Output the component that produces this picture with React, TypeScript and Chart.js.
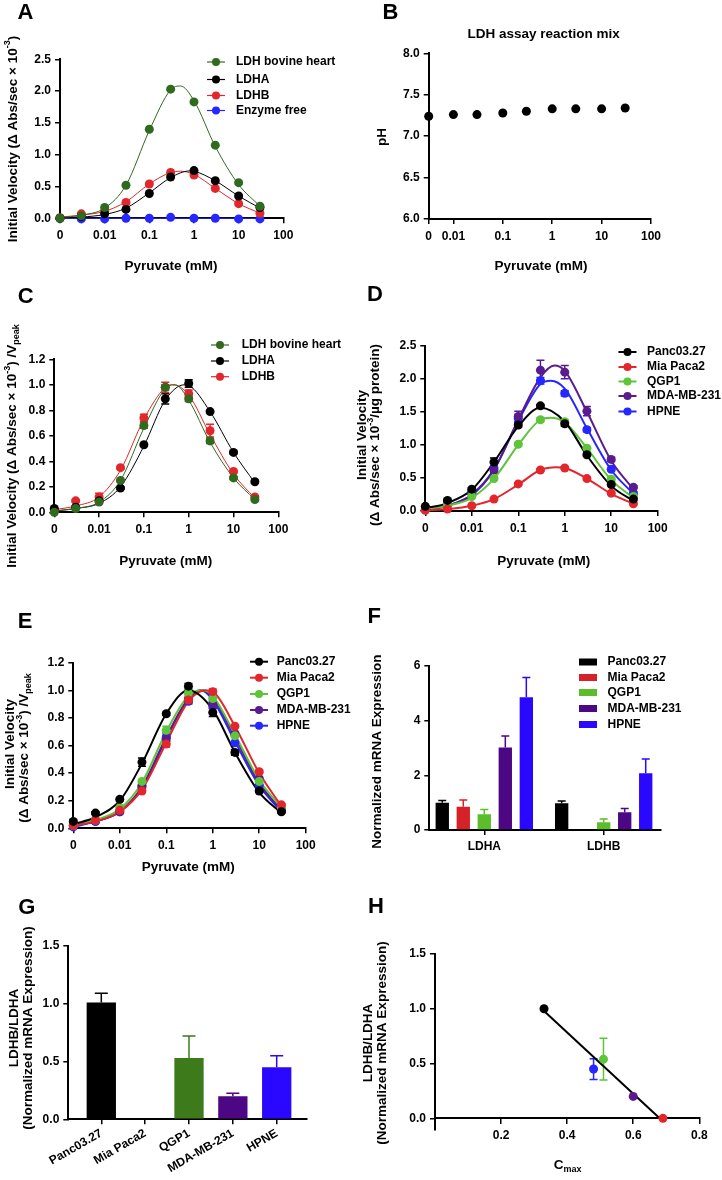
import React, { useEffect, useRef } from 'react';
import { Chart, registerables } from 'chart.js';

Chart.register(...registerables);

const FONT = '"Liberation Sans", Arial, Helvetica, sans-serif';
const TICK_FONT = { family: FONT, size: 12, weight: 'bold' as const };
const TITLE_SIZE = 13.5;

// ===== Shared pyruvate axis =====
const pyruvateConc = [0, 0.003, 0.01, 0.03, 0.1, 0.3, 1, 3, 10, 30];
const pyruvateTickLabels = ['0', '0.01', '0.1', '1', '10', '100'];
const pyruvateTickValues = [0.001, 0.01, 0.1, 1, 10, 100];

// ===== Panel A: initial velocity, purified enzymes =====
const aBovineHeart = [0.0, 0.04, 0.17, 0.52, 1.40, 2.03, 1.83, 1.15, 0.56, 0.19];
const aLDHA = [0.0, 0.03, 0.07, 0.14, 0.39, 0.65, 0.75, 0.59, 0.35, 0.17];
const aLDHB = [0.01, 0.07, 0.11, 0.25, 0.54, 0.72, 0.68, 0.47, 0.23, 0.08];
const aEnzymeFree = [0.0, -0.01, -0.01, 0.0, 0.0, 0.015, 0.0, 0.0, -0.01, -0.01];
const aBovineHeartFit: [number, number][] = [[0, 0.01], [0.003, 0.05], [0.01, 0.16], [0.03, 0.52], [0.1, 1.38], [0.3, 2.02], [0.5, 2.08], [1, 1.85], [3, 1.13], [10, 0.53], [30, 0.19]];
const aLDHAFit: [number, number][] = [[0, 0.01], [0.003, 0.02], [0.01, 0.06], [0.03, 0.16], [0.1, 0.40], [0.3, 0.64], [0.8, 0.745], [1, 0.74], [3, 0.59], [10, 0.35], [30, 0.16]];
const aLDHBFit: [number, number][] = [[0, 0.02], [0.003, 0.05], [0.01, 0.11], [0.03, 0.26], [0.1, 0.54], [0.3, 0.72], [0.5, 0.74], [1, 0.69], [3, 0.47], [10, 0.23], [30, 0.08]];
const aEnzymeFreeFit: [number, number][] = [[0, 0.0], [30, 0.0]];

// ===== Panel B: pH =====
const bConc = [0, 0.01, 0.03, 0.1, 0.3, 1, 3, 10, 30];
const bPH = [7.24, 7.26, 7.26, 7.28, 7.30, 7.33, 7.33, 7.33, 7.34];
const bTickValues = [0.0031623, 0.01, 0.1, 1, 10, 100];

// ===== Panel C: normalized, purified enzymes =====
const cBovineHeart = [0.0, 0.03, 0.08, 0.25, 0.68, 0.98, 0.89, 0.56, 0.27, 0.10];
const cBovineHeartErr = [0, 0, 0.01, 0.01, 0.02, 0.02, 0.02, 0.02, 0.01, 0.01];
const cLDHA = [0.03, 0.04, 0.09, 0.19, 0.53, 0.89, 1.01, 0.79, 0.47, 0.24];
const cLDHAErr = [0, 0.01, 0.01, 0.01, 0.01, 0.04, 0.03, 0.01, 0.01, 0.01];
const cLDHB = [0.02, 0.09, 0.12, 0.35, 0.74, 0.98, 0.93, 0.64, 0.32, 0.12];
const cLDHBErr = [0, 0.01, 0.03, 0.01, 0.03, 0.04, 0.03, 0.05, 0.01, 0.01];
const cBovineHeartFit: [number, number][] = [[0, 0.01], [0.003, 0.03], [0.01, 0.08], [0.03, 0.25], [0.1, 0.66], [0.3, 0.97], [0.5, 1.0], [1, 0.88], [3, 0.55], [10, 0.27], [30, 0.10]];
const cLDHAFit: [number, number][] = [[0, 0.01], [0.003, 0.03], [0.01, 0.07], [0.03, 0.20], [0.1, 0.52], [0.3, 0.88], [0.8, 1.0], [1, 0.995], [3, 0.79], [10, 0.47], [30, 0.23]];
const cLDHBFit: [number, number][] = [[0, 0.02], [0.003, 0.05], [0.01, 0.12], [0.03, 0.33], [0.1, 0.73], [0.3, 0.98], [0.45, 1.0], [1, 0.92], [3, 0.61], [10, 0.30], [30, 0.11]];

// ===== Panel D: cell lysates =====
const dPanc = [0.07, 0.16, 0.33, 0.74, 1.30, 1.59, 1.32, 0.85, 0.40, 0.18];
const dPancErr = [0.01, 0.02, 0.02, 0.06, 0.03, 0.02, 0.04, 0.02, 0.02, 0.02];
const dMia = [0.01, 0.03, 0.08, 0.18, 0.41, 0.62, 0.65, 0.49, 0.27, 0.11];
const dMiaErr = [0, 0, 0.01, 0.01, 0.01, 0.02, 0.02, 0.02, 0.01, 0.01];
const dQGP1 = [0.03, 0.09, 0.22, 0.49, 1.01, 1.38, 1.35, 0.95, 0.48, 0.22];
const dQGP1Err = [0, 0.01, 0.01, 0.02, 0.02, 0.03, 0.03, 0.02, 0.02, 0.01];
const dMDA = [0.02, 0.10, 0.28, 0.62, 1.43, 2.13, 2.10, 1.51, 0.78, 0.36];
const dMDAErr = [0, 0.01, 0.02, 0.04, 0.08, 0.15, 0.10, 0.07, 0.03, 0.02];
const dHPNE = [0.02, 0.10, 0.27, 0.65, 1.40, 1.97, 1.78, 1.23, 0.63, 0.27];
const dHPNEErr = [0, 0.01, 0.02, 0.03, 0.05, 0.05, 0.04, 0.03, 0.02, 0.02];
const dPancFit: [number, number][] = [[0, 0.04], [0.003, 0.12], [0.01, 0.32], [0.03, 0.74], [0.1, 1.28], [0.3, 1.56], [1, 1.35], [3, 0.84], [10, 0.38], [30, 0.15]];
const dMiaFit: [number, number][] = [[0, 0.01], [0.003, 0.03], [0.01, 0.08], [0.03, 0.18], [0.1, 0.40], [0.3, 0.62], [0.65, 0.66], [1, 0.65], [3, 0.49], [10, 0.26], [30, 0.11]];
const dQGP1Fit: [number, number][] = [[0, 0.03], [0.003, 0.08], [0.01, 0.20], [0.03, 0.49], [0.1, 1.0], [0.3, 1.38], [0.5, 1.41], [1, 1.34], [3, 0.95], [10, 0.47], [30, 0.20]];
const dMDAFit: [number, number][] = [[0, 0.02], [0.003, 0.08], [0.01, 0.24], [0.03, 0.62], [0.1, 1.38], [0.3, 2.02], [0.6, 2.2], [1, 2.12], [3, 1.50], [10, 0.76], [30, 0.33]];
const dHPNEFit: [number, number][] = [[0, 0.02], [0.003, 0.08], [0.01, 0.25], [0.03, 0.63], [0.1, 1.36], [0.3, 1.92], [0.5, 1.97], [1, 1.85], [3, 1.25], [10, 0.62], [30, 0.26]];

// ===== Panel E: normalized, cell lysates =====
const ePanc = [0.05, 0.11, 0.21, 0.48, 0.83, 1.03, 0.84, 0.55, 0.27, 0.12];
const ePancErr = [0.01, 0.01, 0.01, 0.03, 0.01, 0.02, 0.03, 0.02, 0.01, 0.01];
const eMia = [0.02, 0.06, 0.13, 0.27, 0.61, 0.93, 0.99, 0.74, 0.41, 0.17];
const eMiaErr = [0, 0, 0.01, 0.01, 0.02, 0.02, 0.02, 0.01, 0.01, 0.01];
const eQGP1 = [0.02, 0.06, 0.15, 0.34, 0.71, 0.98, 0.94, 0.67, 0.34, 0.15];
const eQGP1Err = [0, 0, 0.01, 0.01, 0.03, 0.02, 0.02, 0.01, 0.01, 0.01];
const eMDA = [0.02, 0.05, 0.12, 0.31, 0.65, 0.93, 0.90, 0.68, 0.36, 0.14];
const eMDAErr = [0, 0, 0.01, 0.01, 0.02, 0.02, 0.02, 0.01, 0.01, 0.01];
const eHPNE = [0.01, 0.05, 0.12, 0.30, 0.66, 0.92, 0.89, 0.62, 0.31, 0.13];
const eHPNEErr = [0, 0, 0.01, 0.01, 0.03, 0.02, 0.02, 0.01, 0.01, 0.01];
const ePancFit: [number, number][] = [[0, 0.03], [0.003, 0.08], [0.01, 0.20], [0.03, 0.47], [0.1, 0.83], [0.3, 1.0], [1, 0.86], [3, 0.55], [10, 0.26], [30, 0.11]];
const eMiaFit: [number, number][] = [[0, 0.02], [0.003, 0.05], [0.01, 0.12], [0.03, 0.28], [0.1, 0.62], [0.3, 0.92], [0.7, 1.0], [1, 0.99], [3, 0.74], [10, 0.40], [30, 0.16]];
const eQGP1Fit: [number, number][] = [[0, 0.02], [0.003, 0.06], [0.01, 0.14], [0.03, 0.33], [0.1, 0.70], [0.3, 0.96], [0.6, 1.0], [1, 0.96], [3, 0.68], [10, 0.35], [30, 0.15]];
const eMDAFit: [number, number][] = [[0, 0.02], [0.003, 0.05], [0.01, 0.12], [0.03, 0.30], [0.1, 0.66], [0.3, 0.94], [0.6, 1.0], [1, 0.95], [3, 0.66], [10, 0.33], [30, 0.13]];
const eHPNEFit: [number, number][] = [[0, 0.01], [0.003, 0.05], [0.01, 0.12], [0.03, 0.29], [0.1, 0.65], [0.3, 0.94], [0.55, 1.0], [1, 0.93], [3, 0.63], [10, 0.31], [30, 0.12]];

// ===== Panel F: mRNA expression =====
const fGenes = ['LDHA', 'LDHB'];
const fPanc = [1.0, 0.98];
const fPancErr = [0.08, 0.08];
const fMia = [0.85, 0.0];
const fMiaErr = [0.25, 0];
const fQGP1 = [0.58, 0.28];
const fQGP1Err = [0.17, 0.12];
const fMDA = [3.02, 0.65];
const fMDAErr = [0.42, 0.14];
const fHPNE = [4.86, 2.08];
const fHPNEErr = [0.72, 0.52];

// ===== Panel G: LDHB/LDHA ratio =====
const gCells = ['Panc03.27', 'Mia Paca2', 'QGP1', 'MDA-MB-231', 'HPNE'];
const gRatio = [1.01, 0.0, 0.53, 0.20, 0.45];
const gRatioErr = [0.08, 0, 0.19, 0.025, 0.10];

// ===== Panel H: ratio vs Cmax =====
const hCells = ['Panc03.27', 'Mia Paca2', 'QGP1', 'MDA-MB-231', 'HPNE'];
const hCmax = [0.33, 0.69, 0.51, 0.60, 0.48];
const hRatio = [1.0, 0.0, 0.54, 0.20, 0.45];
const hRatioErr = [0, 0, 0.19, 0, 0.095];
const hRegressionX = [0.33, 0.68];
const hRegressionY = [0.98, 0.0];

// ===== colours =====
const BLACK = '#000000';
const GREEN_DARK = '#2f6a1f';
const RED = '#e3262b';
const BLUE = '#2626ff';
const GREEN = '#5ec43a';
const PURPLE = '#5a1b8e';
const F_RED = '#d52128';
const F_GREEN = '#5bbd2b';
const F_PURPLE = '#4d0784';
const F_BLUE = '#2a08ff';
const G_GREEN = '#3c7a1c';

// ===== types =====
type Box = { x: number; y: number; w: number; h: number };
type Area = { l: number; t: number; r: number; b: number };
type Seg = { t: string; sup?: boolean; sub?: boolean };
type TextItem = { x: number; y: number; segs: Seg[] | string; size?: number; rot?: boolean };
type LegendCfg = {
  kind: 'line' | 'box';
  items: { label: string; color: string }[];
  mx: number; tx: number; ys: number[]; half: number; r?: number; lw?: number; boxH?: number;
};
type ErrCfg = { ds: number; errs: number[]; color: string | string[]; cap: number; up?: boolean; lw?: number };

function drawText(ctx: CanvasRenderingContext2D, item: TextItem, ox: number, oy: number) {
  const size = item.size ?? TITLE_SIZE;
  const segs: Seg[] = typeof item.segs === 'string' ? [{ t: item.segs }] : item.segs;
  ctx.save();
  ctx.translate(item.x - ox, item.y - oy);
  if (item.rot) ctx.rotate(-Math.PI / 2);
  const fonts = segs.map((s) => `bold ${s.sup || s.sub ? Math.round(size * 0.68) : size}px ${FONT}`);
  const widths = segs.map((s, i) => {
    ctx.font = fonts[i];
    return ctx.measureText(s.t).width;
  });
  const total = widths.reduce((a, b) => a + b, 0);
  let x = -total / 2;
  ctx.fillStyle = '#000';
  ctx.textBaseline = 'middle';
  ctx.textAlign = 'left';
  segs.forEach((s, i) => {
    ctx.font = fonts[i];
    const dy = s.sup ? -size * 0.38 : s.sub ? size * 0.32 : 0;
    ctx.fillText(s.t, x, dy);
    x += widths[i];
  });
  ctx.restore();
}

function drawLegend(ctx: CanvasRenderingContext2D, L: LegendCfg, ox: number, oy: number) {
  ctx.save();
  L.items.forEach((it, i) => {
    const y = L.ys[i] - oy;
    const mx = L.mx - ox;
    ctx.fillStyle = it.color;
    ctx.strokeStyle = it.color;
    if (L.kind === 'line') {
      ctx.lineWidth = L.lw ?? 1.2;
      ctx.beginPath();
      ctx.moveTo(mx - L.half, y);
      ctx.lineTo(mx + L.half, y);
      ctx.stroke();
      ctx.beginPath();
      ctx.arc(mx, y, L.r ?? 4, 0, Math.PI * 2);
      ctx.fill();
    } else {
      const bh = L.boxH ?? 7;
      ctx.fillRect(mx - L.half, y - bh / 2, L.half * 2, bh);
    }
    ctx.fillStyle = '#000';
    ctx.font = `bold 12px ${FONT}`;
    ctx.textAlign = 'left';
    ctx.textBaseline = 'middle';
    ctx.fillText(it.label, L.tx - ox, y);
  });
  ctx.restore();
}

function drawErrors(chart: any, errs: ErrCfg[], wantUp: boolean) {
  const ctx: CanvasRenderingContext2D = chart.ctx;
  const yScale = chart.scales.y;
  errs.forEach((e) => {
    if (!!e.up !== wantUp) return;
    const meta = chart.getDatasetMeta(e.ds);
    const ds = chart.data.datasets[e.ds];
    meta.data.forEach((el: any, j: number) => {
      const err = e.errs[j];
      if (!err) return;
      const v = (ds.data[j] as any).y;
      const col = Array.isArray(e.color) ? e.color[j] : e.color;
      const x = el.x;
      const yTop = yScale.getPixelForValue(v + err);
      const yBot = e.up ? yScale.getPixelForValue(v) : yScale.getPixelForValue(v - err);
      ctx.save();
      ctx.strokeStyle = col;
      ctx.lineWidth = e.lw ?? 1.5;
      ctx.beginPath();
      ctx.moveTo(x, yTop);
      ctx.lineTo(x, yBot);
      ctx.moveTo(x - e.cap / 2, yTop);
      ctx.lineTo(x + e.cap / 2, yTop);
      if (!e.up) {
        ctx.moveTo(x - e.cap / 2, yBot);
        ctx.lineTo(x + e.cap / 2, yBot);
      }
      ctx.stroke();
      ctx.restore();
    });
  });
}

function makeDeco(id: string, box: Box, texts: TextItem[], legend?: LegendCfg, errors: ErrCfg[] = []) {
  return {
    id,
    beforeDatasetsDraw(chart: any) {
      drawErrors(chart, errors, false);
    },
    afterDatasetsDraw(chart: any) {
      drawErrors(chart, errors, true);
    },
    afterDraw(chart: any) {
      const ctx = chart.ctx as CanvasRenderingContext2D;
      texts.forEach((t) => drawText(ctx, t, box.x, box.y));
      if (legend) drawLegend(ctx, legend, box.x, box.y);
    },
  };
}

// The y scale fills the space left of the plot, the x scale the space below it,
// so the layout puts the plot area exactly where the reference has it.
function baseOptions(box: Box, area: Area, xInLayout = true) {
  return {
    animation: false as const,
    responsive: false,
    maintainAspectRatio: false,
    events: [] as any[],
    layout: {
      padding: { left: 0, top: area.t - box.y, right: box.x + box.w - area.r, bottom: xInLayout ? 0 : box.y + box.h - area.b },
    },
    plugins: { legend: { display: false }, tooltip: { enabled: false }, title: { display: false } },
  };
}

const axisLine = {
  border: { display: true, color: '#000', width: 2 },
  grid: { display: true, drawOnChartArea: false, drawTicks: true, tickLength: 5, tickWidth: 1.5, color: '#000', lineWidth: 1.5, offset: false },
};

function valueAxis(box: Box, area: Area, min: number, max: number, ticks: number[], digits: number) {
  return {
    type: 'linear',
    min,
    max,
    ...axisLine,
    afterBuildTicks: (ax: any) => {
      ax.ticks = ticks.map((v) => ({ value: v }));
    },
    afterFit: (ax: any) => {
      ax.width = area.l - box.x;
    },
    ticks: { color: '#000', font: TICK_FONT, padding: 4, autoSkip: false, callback: (v: any) => Number(v).toFixed(digits) },
  };
}

function xFit(box: Box, area: Area) {
  return (ax: any) => {
    ax.height = box.y + box.h - area.b;
  };
}

function pyruvateAxis(box: Box, area: Area, min: number, tickValues: number[]) {
  return {
    type: 'logarithmic',
    min,
    max: 100,
    ...axisLine,
    afterBuildTicks: (ax: any) => {
      ax.ticks = tickValues.map((v) => ({ value: v }));
    },
    afterFit: xFit(box, area),
    ticks: {
      color: '#000', font: TICK_FONT, padding: 5, autoSkip: false, maxRotation: 0, minRotation: 0,
      callback: (_v: any, i: number) => pyruvateTickLabels[i],
    },
  };
}

type Series = { label: string; color: string; pts: number[]; fit: [number, number][]; errs?: number[] };

function curveConfig(p: {
  id: string; box: Box; area: Area; yMin: number; yMax: number; yTicks: number[]; series: Series[];
  fitWidth: number; texts: TextItem[]; legend: LegendCfg;
}) {
  const xMin = pyruvateTickValues[0];
  const zero = (c: number) => (c === 0 ? xMin : c);
  const pointSets = p.series.map((s) => ({
    type: 'scatter',
    label: s.label,
    data: s.pts.map((v, i) => ({ x: zero(pyruvateConc[i]), y: v })),
    backgroundColor: s.color,
    borderColor: s.color,
    pointBackgroundColor: s.color,
    pointBorderWidth: 0,
    pointRadius: 4.5,
    pointHoverRadius: 4.5,
    showLine: false,
    order: 0,
    clip: false,
  }));
  const fitSets = p.series.map((s) => ({
    type: 'scatter',
    label: s.label + ' fit',
    data: s.fit.map(([c, v]) => ({ x: zero(c), y: v })),
    borderColor: s.color,
    backgroundColor: s.color,
    borderWidth: p.fitWidth,
    pointRadius: 0,
    pointHoverRadius: 0,
    showLine: true,
    cubicInterpolationMode: 'monotone',
    order: 1,
    clip: false,
  }));
  const errors: ErrCfg[] = [];
  p.series.forEach((s, i) => {
    if (s.errs) errors.push({ ds: i, errs: s.errs, color: s.color, cap: 8, lw: 1.5 });
  });
  return {
    type: 'scatter',
    data: { datasets: [...pointSets, ...fitSets] },
    options: {
      ...baseOptions(p.box, p.area),
      scales: {
        x: pyruvateAxis(p.box, p.area, xMin, pyruvateTickValues),
        y: valueAxis(p.box, p.area, p.yMin, p.yMax, p.yTicks, 1),
      },
    },
    plugins: [makeDeco(p.id, p.box, p.texts, p.legend, errors)],
  };
}

const velocityTitle: Seg[] = [{ t: 'Initial Velocity (Δ Abs/sec × 10' }, { t: '-3', sup: true }, { t: ')' }];
const normTitle: Seg[] = [{ t: 'Initial Velocity (Δ Abs/sec × 10' }, { t: '-3', sup: true }, { t: ') /V' }, { t: 'peak', sub: true }];
const normTitle2: Seg[] = [{ t: '(Δ Abs/sec × 10' }, { t: '-3', sup: true }, { t: ') /V' }, { t: 'peak', sub: true }];
const proteinTitle: Seg[] = [{ t: '(Δ Abs/sec × 10' }, { t: '-3', sup: true }, { t: '/µg protein)' }];
const LETTER = 22;

// ===== panel boxes =====
const boxA: Box = { x: 0, y: 0, w: 361, h: 280 };
const boxB: Box = { x: 361, y: 0, w: 361, h: 280 };
const boxC: Box = { x: 0, y: 280, w: 361, h: 300 };
const boxD: Box = { x: 340, y: 280, w: 382, h: 300 };
const boxE: Box = { x: 0, y: 580, w: 361, h: 300 };
const boxF: Box = { x: 361, y: 580, w: 361, h: 300 };
const boxG: Box = { x: 0, y: 880, w: 361, h: 300 };
const boxH: Box = { x: 355, y: 880, w: 367, h: 300 };

function configA() {
  return curveConfig({
    id: 'decoA', box: boxA, area: { l: 60, t: 59.3, r: 283.3, b: 218.3 },
    yMin: 0, yMax: 2.5, yTicks: [0, 0.5, 1, 1.5, 2, 2.5], fitWidth: 1,
    series: [
      { label: 'LDH bovine heart', color: GREEN_DARK, pts: aBovineHeart, fit: aBovineHeartFit },
      { label: 'LDHA', color: BLACK, pts: aLDHA, fit: aLDHAFit },
      { label: 'LDHB', color: RED, pts: aLDHB, fit: aLDHBFit },
      { label: 'Enzyme free', color: BLUE, pts: aEnzymeFree, fit: aEnzymeFreeFit },
    ],
    texts: [
      { x: 25.5, y: 13, segs: 'A', size: LETTER },
      { x: 13, y: 139, segs: velocityTitle, rot: true },
      { x: 171, y: 266, segs: 'Pyruvate (mM)' },
    ],
    legend: {
      kind: 'line', mx: 216, tx: 236, half: 9, r: 4, lw: 1.2, ys: [62, 79.5, 95.5, 110.5],
      items: [
        { label: 'LDH bovine heart', color: GREEN_DARK },
        { label: 'LDHA', color: BLACK },
        { label: 'LDHB', color: RED },
        { label: 'Enzyme free', color: BLUE },
      ],
    },
  });
}

function configB() {
  const xMin = bTickValues[0];
  const area = { l: 428.7, t: 53.3, r: 651, b: 219 };
  return {
    type: 'scatter',
    data: {
      datasets: [{
        label: 'pH',
        data: bPH.map((v, i) => ({ x: bConc[i] === 0 ? xMin : bConc[i], y: v })),
        backgroundColor: BLACK, pointBackgroundColor: BLACK, pointBorderWidth: 0,
        pointRadius: 4.5, pointHoverRadius: 4.5, showLine: false, clip: false,
      }],
    },
    options: {
      ...baseOptions(boxB, area),
      scales: {
        x: pyruvateAxis(boxB, area, xMin, bTickValues),
        y: valueAxis(boxB, area, 6, 8, [6, 6.5, 7, 7.5, 8], 1),
      },
    },
    plugins: [makeDeco('decoB', boxB, [
      { x: 390.5, y: 12.5, segs: 'B', size: LETTER },
      { x: 543.7, y: 34, segs: 'LDH assay reaction mix' },
      { x: 382, y: 137, segs: 'pH', rot: true },
      { x: 541, y: 266, segs: 'Pyruvate (mM)' },
    ])],
  };
}

function configC() {
  return curveConfig({
    id: 'decoC', box: boxC, area: { l: 54.3, t: 359.3, r: 278.3, b: 512.3 },
    yMin: 0, yMax: 1.2, yTicks: [0, 0.2, 0.4, 0.6, 0.8, 1.0, 1.2], fitWidth: 1,
    series: [
      { label: 'LDH bovine heart', color: GREEN_DARK, pts: cBovineHeart, fit: cBovineHeartFit, errs: cBovineHeartErr },
      { label: 'LDHA', color: BLACK, pts: cLDHA, fit: cLDHAFit, errs: cLDHAErr },
      { label: 'LDHB', color: RED, pts: cLDHB, fit: cLDHBFit, errs: cLDHBErr },
    ],
    texts: [
      { x: 25.8, y: 296.7, segs: 'C', size: LETTER },
      { x: 12.5, y: 446, segs: normTitle, rot: true },
      { x: 165.7, y: 561.7, segs: 'Pyruvate (mM)' },
    ],
    legend: {
      kind: 'line', mx: 220, tx: 241.7, half: 9, r: 4, lw: 1.2, ys: [345, 361, 376.7],
      items: [
        { label: 'LDH bovine heart', color: GREEN_DARK },
        { label: 'LDHA', color: BLACK },
        { label: 'LDHB', color: RED },
      ],
    },
  });
}

const cellLegendItems = [
  { label: 'Panc03.27', color: BLACK },
  { label: 'Mia Paca2', color: RED },
  { label: 'QGP1', color: GREEN },
  { label: 'MDA-MB-231', color: PURPLE },
  { label: 'HPNE', color: BLUE },
];

function configD() {
  return curveConfig({
    id: 'decoD', box: boxD, area: { l: 425.3, t: 345.7, r: 657.7, b: 511 },
    yMin: 0, yMax: 2.5, yTicks: [0, 0.5, 1, 1.5, 2, 2.5], fitWidth: 2,
    series: [
      { label: 'Panc03.27', color: BLACK, pts: dPanc, fit: dPancFit, errs: dPancErr },
      { label: 'Mia Paca2', color: RED, pts: dMia, fit: dMiaFit, errs: dMiaErr },
      { label: 'QGP1', color: GREEN, pts: dQGP1, fit: dQGP1Fit, errs: dQGP1Err },
      { label: 'MDA-MB-231', color: PURPLE, pts: dMDA, fit: dMDAFit, errs: dMDAErr },
      { label: 'HPNE', color: BLUE, pts: dHPNE, fit: dHPNEFit, errs: dHPNEErr },
    ],
    texts: [
      { x: 375, y: 295, segs: 'D', size: LETTER },
      { x: 362, y: 435, segs: 'Initial Velocity', rot: true },
      { x: 375.5, y: 435, segs: proteinTitle, rot: true },
      { x: 543.7, y: 561.7, segs: 'Pyruvate (mM)' },
    ],
    legend: { kind: 'line', mx: 627.5, tx: 647, half: 9, r: 4, lw: 2, ys: [352, 367, 381.5, 396, 411.5], items: cellLegendItems },
  });
}

function configE() {
  return curveConfig({
    id: 'decoE', box: boxE, area: { l: 73.3, t: 662.7, r: 305.7, b: 828.3 },
    yMin: 0, yMax: 1.2, yTicks: [0, 0.2, 0.4, 0.6, 0.8, 1.0, 1.2], fitWidth: 2,
    series: [
      { label: 'Panc03.27', color: BLACK, pts: ePanc, fit: ePancFit, errs: ePancErr },
      { label: 'Mia Paca2', color: RED, pts: eMia, fit: eMiaFit, errs: eMiaErr },
      { label: 'QGP1', color: GREEN, pts: eQGP1, fit: eQGP1Fit, errs: eQGP1Err },
      { label: 'MDA-MB-231', color: PURPLE, pts: eMDA, fit: eMDAFit, errs: eMDAErr },
      { label: 'HPNE', color: BLUE, pts: eHPNE, fit: eHPNEFit, errs: eHPNEErr },
    ],
    texts: [
      { x: 25, y: 621.7, segs: 'E', size: LETTER },
      { x: 10, y: 744, segs: 'Initial Velocity', rot: true },
      { x: 24.5, y: 748, segs: normTitle2, rot: true },
      { x: 188.3, y: 867.3, segs: 'Pyruvate (mM)' },
    ],
    legend: { kind: 'line', mx: 259, tx: 276.7, half: 9, r: 4, lw: 2, ys: [661.7, 677.7, 694, 710, 725.7], items: cellLegendItems },
  });
}

function configF() {
  const area = { l: 429.3, t: 666, r: 661, b: 830 };
  const series = [
    { label: 'Panc03.27', color: BLACK, vals: fPanc, errs: fPancErr },
    { label: 'Mia Paca2', color: F_RED, vals: fMia, errs: fMiaErr },
    { label: 'QGP1', color: F_GREEN, vals: fQGP1, errs: fQGP1Err },
    { label: 'MDA-MB-231', color: F_PURPLE, vals: fMDA, errs: fMDAErr },
    { label: 'HPNE', color: F_BLUE, vals: fHPNE, errs: fHPNEErr },
  ];
  return {
    type: 'bar',
    data: {
      datasets: series.map((s) => ({
        label: s.label,
        data: s.vals.map((v, i) => ({ x: i, y: v })),
        backgroundColor: s.color,
        borderWidth: 0,
        barPercentage: 0.635,
        categoryPercentage: 0.88,
      })),
    },
    options: {
      ...baseOptions(boxF, area),
      scales: {
        x: {
          type: 'linear', min: -0.4606, max: 1.48, offset: false, ...axisLine,
          afterBuildTicks: (ax: any) => { ax.ticks = fGenes.map((_g, i) => ({ value: i })); },
          afterFit: xFit(boxF, area),
          ticks: { color: '#000', font: TICK_FONT, padding: 4, autoSkip: false, maxRotation: 0, minRotation: 0, callback: (v: any) => fGenes[Math.round(Number(v))] },
        },
        y: valueAxis(boxF, area, 0, 6, [0, 2, 4, 6], 0),
      },
    },
    plugins: [makeDeco('decoF', boxF, [
      { x: 374.3, y: 616.7, segs: 'F', size: LETTER },
      { x: 377.7, y: 751.7, segs: 'Normalized mRNA Expression', rot: true },
    ], {
      kind: 'box', mx: 588, tx: 607.5, half: 9, boxH: 7, ys: [662, 677.5, 692.5, 708.5, 724.5],
      items: series.map((s) => ({ label: s.label, color: s.color })),
    }, series.map((s, i) => ({ ds: i, errs: s.errs, color: s.color, cap: 8, up: true, lw: 1.5 })))],
  };
}

function configG() {
  const area = { l: 68.3, t: 946, r: 306.7, b: 1119.3 };
  const colors = [BLACK, F_RED, G_GREEN, F_PURPLE, F_BLUE];
  return {
    type: 'bar',
    data: {
      datasets: [{
        label: 'LDHB/LDHA',
        data: gRatio.map((v, i) => ({ x: i, y: v })),
        backgroundColor: colors,
        borderWidth: 0,
        barPercentage: 0.668,
        categoryPercentage: 1,
      }],
    },
    options: {
      ...baseOptions(boxG, area),
      scales: {
        x: {
          type: 'linear', min: -0.7526, max: 4.684, offset: false, ...axisLine,
          afterBuildTicks: (ax: any) => { ax.ticks = gCells.map((_c, i) => ({ value: i })); },
          afterFit: xFit(boxG, area),
          ticks: { color: '#000', font: TICK_FONT, padding: 2, autoSkip: false, maxRotation: 30, minRotation: 30, callback: (v: any) => gCells[Math.round(Number(v))] },
        },
        y: valueAxis(boxG, area, 0, 1.5, [0, 0.5, 1, 1.5], 1),
      },
    },
    plugins: [makeDeco('decoG', boxG, [
      { x: 26.7, y: 908, segs: 'G', size: LETTER },
      { x: 14.5, y: 1028, segs: 'LDHB/LDHA', rot: true },
      { x: 28.5, y: 1028, segs: '(Normalized mRNA Expression)', rot: true },
    ], undefined, [{ ds: 0, errs: gRatioErr, color: colors, cap: 13, up: true, lw: 1.5 }])],
  };
}

function configH() {
  const area = { l: 435, t: 954, r: 699.3, b: 1129.3 };
  const colors = [BLACK, RED, GREEN, PURPLE, BLUE];
  return {
    type: 'scatter',
    data: {
      datasets: [
        {
          label: 'LDHB/LDHA vs Cmax',
          data: hRatio.map((v, i) => ({ x: hCmax[i], y: v, cell: hCells[i] })),
          backgroundColor: colors, pointBackgroundColor: colors, pointBorderWidth: 0,
          pointRadius: 4.5, pointHoverRadius: 4.5, showLine: false, order: 0, clip: false,
        },
        {
          label: 'Linear fit',
          data: hRegressionX.map((x, i) => ({ x, y: hRegressionY[i] })),
          borderColor: BLACK, backgroundColor: BLACK, borderWidth: 2,
          pointRadius: 0, pointHoverRadius: 0, showLine: true, order: 1, clip: false,
        },
      ],
    },
    options: {
      ...baseOptions(boxH, area, false),
      scales: {
        x: {
          type: 'linear', min: 0, max: 0.8, position: { y: 0 }, ...axisLine,
          afterBuildTicks: (ax: any) => { ax.ticks = [0.2, 0.4, 0.6, 0.8].map((v) => ({ value: v })); },
          ticks: { color: '#000', font: TICK_FONT, padding: 5, autoSkip: false, maxRotation: 0, minRotation: 0, callback: (v: any) => Number(v).toFixed(1) },
        },
        y: valueAxis(boxH, area, -0.1, 1.5, [0, 0.5, 1, 1.5], 1),
      },
    },
    plugins: [makeDeco('decoH', boxH, [
      { x: 376, y: 906.7, segs: 'H', size: LETTER },
      { x: 368.5, y: 1043, segs: 'LDHB/LDHA', rot: true },
      { x: 382.5, y: 1043, segs: '(Normalized mRNA Expression)', rot: true },
      { x: 567.7, y: 1165, segs: [{ t: 'C' }, { t: 'max', sub: true }] },
    ], undefined, [{ ds: 0, errs: hRatioErr, color: colors, cap: 8, lw: 1.5 }])],
  };
}

function Panel({ box, make }: { box: Box; make: () => any }) {
  const ref = useRef<HTMLCanvasElement>(null);
  useEffect(() => {
    const chart = new Chart(ref.current as HTMLCanvasElement, make());
    return () => chart.destroy();
  }, []);
  return (
    <canvas
      ref={ref}
      width={box.w}
      height={box.h}
      style={{ position: 'absolute', left: box.x, top: box.y, width: box.w, height: box.h }}
    />
  );
}

export default function App() {
  return (
    <div style={{ position: 'absolute', left: 0, top: 0, width: 722, height: 1180, background: '#fff', overflow: 'hidden' }}>
      <Panel box={boxA} make={configA} />
      <Panel box={boxB} make={configB} />
      <Panel box={boxC} make={configC} />
      <Panel box={boxD} make={configD} />
      <Panel box={boxE} make={configE} />
      <Panel box={boxF} make={configF} />
      <Panel box={boxG} make={configG} />
      <Panel box={boxH} make={configH} />
    </div>
  );
}
